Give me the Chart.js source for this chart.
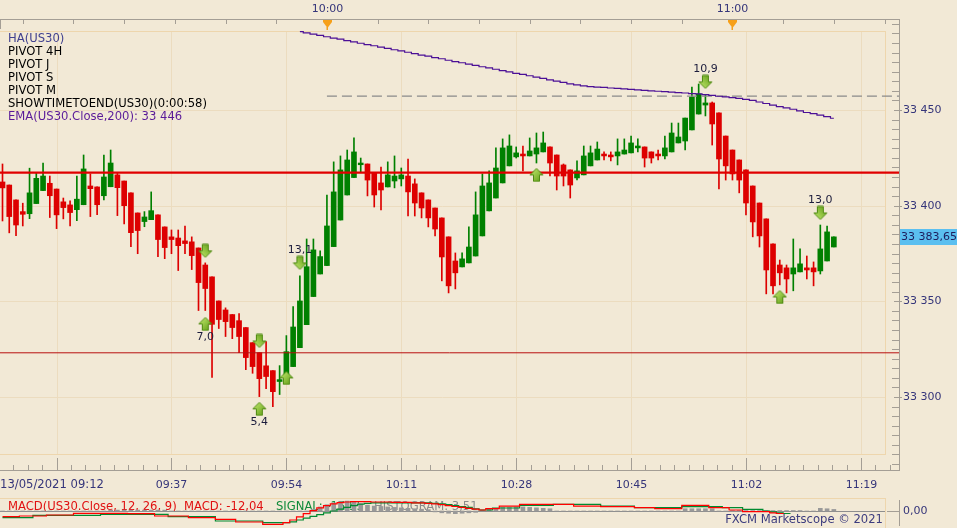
<!DOCTYPE html>
<html>
<head>
<meta charset="utf-8">
<script src="https://cdn.jsdelivr.net/npm/chart.js@4.4.1/dist/chart.umd.min.js"></script>
<style>
  html, body { margin: 0; padding: 0; background: #f2e9d6; overflow: hidden; }
  #wrap { position: relative; width: 957px; height: 528px; }
  #main { position: absolute; left: 0; top: 0; }
  #macd { position: absolute; left: 0; top: 497px; }
</style>
</head>
<body>
<div id="wrap">
  <canvas id="main" width="957" height="497"></canvas>
  <canvas id="macd" width="957" height="31"></canvas>
</div>
<script>
// 1 minute Heikin-Ashi bars, first bar 13/05/2021 09:12
const openPrices = [
  33412.4, 33410.8, 33403.0, 33396.9, 33395.8, 33401.1, 33407.9, 33411.7, 33408.7, 33402.0,
  33400.4, 33397.9, 33400.5, 33410.3, 33409.8, 33405.2, 33409.9, 33416.1, 33412.9, 33406.7,
  33396.2, 33391.7, 33392.7, 33395.2, 33388.9, 33383.7, 33383.1, 33381.6, 33381.1, 33377.9,
  33369.0, 33362.8, 33350.2, 33345.5, 33343.1, 33339.9, 33336.3, 33328.4, 33323.2, 33316.3,
  33313.8, 33308.1, 33311.2, 33315.9, 33325.8, 33337.8, 33352.5, 33364.3, 33368.7, 33378.6,
  33392.5, 33405.6, 33414.7, 33421.4, 33421.8, 33417.1, 33411.9, 33409.8, 33412.9, 33414.0,
  33415.5, 33411.4, 33406.7, 33403.0, 33398.8, 33393.6, 33383.7, 33371.1, 33368.0, 33370.1,
  33373.7, 33384.2, 33397.3, 33404.0, 33411.9, 33420.8, 33425.5, 33427.0, 33426.0, 33427.0,
  33428.1, 33430.7, 33426.5, 33421.3, 33418.7, 33414.5, 33416.1, 33420.8, 33423.9, 33427.0,
  33426.5, 33426.0, 33427.0, 33427.6, 33430.2, 33430.7, 33428.1, 33427.0, 33426.0, 33428.1,
  33432.8, 33433.8, 33439.6, 33447.9, 33452.6, 33453.7, 33448.5, 33436.4, 33429.1, 33423.9,
  33418.7, 33410.3, 33401.4, 33393.1, 33380.0, 33369.0, 33367.5, 33364.3, 33365.4, 33367.5,
  33367.5, 33365.9, 33371.1, 33378.4
];
const highPrices = [
  33421.8, 33410.8, 33403.0, 33401.3, 33419.6, 33416.9, 33422.2, 33415.5, 33408.7, 33404.0,
  33402.5, 33415.5, 33426.5, 33416.6, 33409.8, 33426.5, 33429.1, 33417.3, 33412.9, 33406.7,
  33396.2, 33396.9, 33407.2, 33395.2, 33388.9, 33387.3, 33387.3, 33389.4, 33383.7, 33377.9,
  33370.1, 33362.8, 33350.2, 33346.6, 33343.1, 33343.6, 33336.3, 33328.4, 33323.2, 33329.0,
  33313.8, 33316.4, 33332.1, 33347.2, 33363.3, 33382.6, 33382.6, 33376.4, 33405.6, 33422.9,
  33426.0, 33429.1, 33435.4, 33424.9, 33421.8, 33417.1, 33420.2, 33422.9, 33426.0, 33419.7,
  33424.4, 33414.0, 33406.7, 33403.0, 33398.8, 33393.6, 33383.7, 33375.3, 33375.3, 33388.9,
  33407.2, 33416.6, 33418.2, 33430.2, 33434.9, 33437.0, 33430.7, 33431.2, 33435.4, 33438.0,
  33438.5, 33430.7, 33426.5, 33421.8, 33418.7, 33423.4, 33431.2, 33431.2, 33433.3, 33428.1,
  33428.1, 33434.9, 33434.9, 33436.4, 33434.9, 33430.7, 33428.1, 33429.1, 33436.4, 33443.2,
  33443.2, 33445.8, 33462.0, 33463.6, 33457.9, 33454.2, 33448.5, 33436.4, 33429.1, 33423.9,
  33418.7, 33410.3, 33401.4, 33393.1, 33380.0, 33371.6, 33369.0, 33382.6, 33377.4, 33373.7,
  33370.6, 33389.9, 33389.4, 33383.7
];
const lowPrices = [
  33392.0, 33385.8, 33384.3, 33389.4, 33393.2, 33401.1, 33407.9, 33393.8, 33388.0, 33393.1,
  33389.4, 33392.2, 33400.5, 33394.3, 33395.3, 33403.0, 33409.9, 33394.8, 33390.5, 33378.6,
  33374.9, 33389.0, 33392.7, 33373.4, 33372.3, 33374.9, 33366.1, 33374.9, 33366.6, 33345.2,
  33345.2, 33310.2, 33335.8, 33331.6, 33330.5, 33323.2, 33314.3, 33312.4, 33300.2, 33304.4,
  33295.0, 33301.3, 33311.2, 33315.9, 33325.8, 33337.8, 33352.5, 33364.3, 33368.7, 33378.6,
  33392.5, 33405.6, 33414.7, 33417.3, 33405.1, 33399.3, 33397.8, 33409.8, 33409.3, 33410.3,
  33394.6, 33394.6, 33393.6, 33388.9, 33384.2, 33360.7, 33354.4, 33356.5, 33368.0, 33370.1,
  33373.7, 33384.2, 33397.3, 33404.0, 33411.9, 33420.8, 33424.9, 33418.2, 33426.0, 33422.3,
  33428.1, 33415.5, 33408.2, 33410.3, 33404.0, 33413.4, 33416.1, 33420.8, 33423.9, 33423.9,
  33423.4, 33421.3, 33427.0, 33427.6, 33428.1, 33420.2, 33422.3, 33423.9, 33424.4, 33428.1,
  33432.8, 33429.1, 33439.6, 33447.9, 33446.9, 33431.7, 33408.7, 33413.4, 33413.4, 33406.7,
  33395.2, 33383.7, 33378.4, 33353.9, 33353.9, 33358.6, 33354.4, 33355.5, 33365.4, 33361.7,
  33358.1, 33364.3, 33371.1, 33378.4
];
const closePrices = [
  33409.3, 33394.3, 33389.9, 33395.5, 33406.7, 33414.3, 33415.5, 33405.2, 33395.2, 33399.0,
  33396.4, 33403.4, 33419.2, 33408.9, 33400.5, 33415.0, 33422.3, 33409.4, 33400.0, 33385.9,
  33387.0, 33394.1, 33397.4, 33382.3, 33378.1, 33382.3, 33379.1, 33380.2, 33373.9, 33359.8,
  33356.7, 33338.0, 33340.5, 33339.4, 33336.3, 33331.6, 33320.6, 33315.9, 33309.6, 33310.7,
  33302.8, 33309.1, 33323.7, 33336.6, 33350.2, 33368.1, 33376.9, 33373.4, 33389.4, 33407.2,
  33418.7, 33423.9, 33428.1, 33422.3, 33413.4, 33405.6, 33408.2, 33416.1, 33415.5, 33416.1,
  33407.2, 33401.4, 33398.8, 33393.6, 33387.8, 33373.2, 33358.1, 33364.9, 33372.2, 33378.4,
  33395.2, 33410.3, 33411.9, 33419.7, 33430.2, 33431.2, 33427.6, 33426.0, 33428.6, 33430.2,
  33432.8, 33422.3, 33415.5, 33415.5, 33410.8, 33418.2, 33426.0, 33427.6, 33429.6, 33426.0,
  33425.5, 33428.1, 33429.1, 33432.8, 33431.2, 33424.9, 33424.9, 33426.0, 33430.2, 33438.0,
  33435.9, 33445.8, 33456.8, 33458.4, 33453.7, 33442.7, 33424.4, 33420.8, 33416.6, 33413.4,
  33401.4, 33391.5, 33384.2, 33366.4, 33358.1, 33364.9, 33361.7, 33367.5, 33369.6, 33366.4,
  33365.4, 33377.4, 33386.3, 33383.7
];
const lastPrice = 33383.65;

// EMA(200) from bar 44 onwards
const emaStart = 44;
const emaValues = [
  33491.0, 33490.3, 33489.7, 33489.0, 33488.3, 33487.6, 33487.0, 33486.3, 33485.6, 33484.9,
  33484.2, 33483.6, 33482.9, 33482.2, 33481.5, 33480.9, 33480.2, 33479.5, 33478.7, 33478.2,
  33477.4, 33476.8, 33476.0, 33475.3, 33474.7, 33474.0, 33473.3, 33472.6, 33472.0, 33471.3,
  33470.6, 33469.9, 33469.2, 33468.6, 33467.9, 33467.2, 33466.5, 33465.8, 33465.1, 33464.4,
  33463.7, 33463.1, 33462.6, 33462.2, 33462.0, 33461.8, 33461.5, 33461.3, 33461.0, 33460.8,
  33460.5, 33460.3, 33460.0, 33459.8, 33459.6, 33459.4, 33459.1, 33458.9, 33458.6, 33458.4,
  33458.0, 33457.6, 33457.2, 33456.9, 33456.5, 33456.1, 33455.6, 33455.0, 33454.2, 33453.4,
  33452.6, 33451.8, 33451.1, 33450.4, 33449.5, 33448.7, 33448.1, 33447.3, 33446.5, 33445.7
];

// pivot / level lines
const pivotLevel = 33417.3;
const supportLevel = 33323.1;
const dashLevel = 33457.3;
const dashStart = 48;

// signal arrows
const arrowIdx   = [30, 30, 38, 38, 42, 44, 79, 104, 115, 121];
const arrowPrice = [33376.4, 33338.2, 33329.3, 33293.8, 33310.0, 33370.1, 33416.1, 33464.7, 33352.3, 33396.2];
const arrowDir   = ['down', 'up', 'down', 'up', 'up', 'down', 'up', 'down', 'up', 'down'];
const arrowLabel = ['', '7,0', '', '5,4', '', '13,1', '', '10,9', '', '13,0'];

// MACD(12, 26, 9)
const macdValues = [
  -12.7, -12.7, -12.7, -11.1, -11.1, -11.1, -11.1, -8.9, -8.9, -8.9,
  -8.9, -5.1, -5.1, -5.1, -5.1, -5.1, -5.1, -5.1, -5.1, -6.0,
  -6.0, -6.0, -6.0, -11.1, -11.1, -11.1, -11.1, -11.1, -14.9, -14.9,
  -14.9, -14.9, -18.4, -18.4, -18.4, -24.4, -24.4, -24.4, -24.4, -29.6,
  -29.6, -29.6, -26, -20, -13, -6, 1, 7, 12, 16,
  18.4, 20, 21, 21, 21, 20, 20, 20, 19, 19,
  19, 18, 18, 17, 16, 14, 12, 10, 8, 6,
  4, 2.2, 5.2, 5.2, 11, 11, 11, 14.8, 14.8, 14.8,
  14.8, 14.8, 14.8, 14.8, 14.8, 11, 11, 11, 11, 9.6,
  9.6, 9.6, 9.6, 9.6, 7.4, 7.4, 7.4, 5.2, 5.2, 5.2,
  5.2, 12.6, 12.6, 12.6, 12.6, 7.4, 7.4, 7.4, 2.2, 2.2,
  -1.5, -1.5, -1.5, -1.5, -4, -6, -8, -9, -10, -11,
  -11.5, -12, -12, -12.04
];
const signalValues = [
  -14.9, -14.9, -14.9, -14.9, -14.9, -9.6, -9.6, -9.6, -9.6, -9.6,
  -9.6, -9.6, -9.6, -9.6, -9.6, -7.3, -7.3, -7.3, -7.3, -7.3,
  -7.3, -7.3, -7.3, -7.3, -7.3, -12.7, -12.7, -12.7, -12.7, -12.7,
  -12.7, -12.7, -22.2, -22.2, -22.2, -22.2, -22.2, -22.2, -22.2, -26,
  -26, -26, -26, -24, -20, -16, -12, -8, -4, 0,
  4, 8, 12, 15, 17, 18, 18, 18, 18, 18,
  18, 18, 18, 18, 17, 16, 14, 12, 10, 8,
  5, 2.2, 2.2, 6.7, 6.7, 6.7, 6.7, 12.6, 12.6, 12.6,
  12.6, 12.6, 14.8, 14.8, 14.8, 14.8, 14.8, 14.8, 14.8, 11,
  11, 11, 11, 11, 7.4, 7.4, 7.4, 7.4, 7.4, 7.4,
  7.4, 9.6, 9.6, 9.6, 9.6, 9.6, 9.6, 7.4, 7.4, 7.4,
  3.7, 3.7, 3.7, 0, -2, -4, -6, -8, -9.5, -11,
  -12.5, -13.5, -14.5, -15.55
];
const histValues = [
  0, 0, 0, 0, 0, 0, 0, 0, 0, 0,
  0, 0, 0, 0, 0, 0, 2, 2, 2, 2,
  2, 2, 2, 2, 2, 0, 0, 0, 0, 0,
  0, 0, 0, 0, 0, 0, 0, 0, 0, 0,
  0, 0, 0, 0, 0, 0, 4, 9, 14, 18,
  21, 22, 20, 17, 13, 11, 10, 9, 8, 7,
  6, 5, 4, 3, -2, -4, -5, -6, -5, -4,
  -3, 2, 4, 6, 8, 8, 9, 9, 8, 7,
  6, 5, 0, 0, 0, 0, 0, 0, 0, 0,
  0, 0, 0, 0, 0, 0, 0, 0, 0, 0,
  0, 5, 5, 5, 5, 5, 0, 0, 1, 1,
  1, 1, 1, 1, 1, 1, 1, 1, 1, 0,
  0, 6, 5, 3.51
];

// axes
const priceTicks = [33300, 33350, 33400, 33450];
const firstLabel = '13/05/2021 09:12';
const bottomTickIdx = [8, 25, 42, 59, 76, 93, 110, 127];
const bottomTickLabels = ['', '09:37', '09:54', '10:11', '10:28', '10:45', '11:02', '11:19'];
const topMarkIdx = [48, 108];
const topMarkLabels = ['10:00', '11:00'];
const legendLines = ['HA(US30)', 'PIVOT 4H', 'PIVOT J', 'PIVOT S', 'PIVOT M', 'SHOWTIMETOEND(US30)(0:00:58)'];

// ---- look ----
const BG = '#f2e9d6';
const GRID = '#ecdcbf';
const FRAME = '#eed6ad';
const AXIS = '#a49e95';
const AXIS_TEXT = '#35357a';
const RED = '#dd0000';
const GREEN = '#008000';
const FONT = '11px "DejaVu Sans"';
const TEXT_FONT = '11.6px "DejaVu Sans"';

const X_MIN = -0.37, X_MAX = 132.64;
const Y_MIN = 33261.85, Y_MAX = 33497.57;
const FRAME_TOP = 31, FRAME_BOTTOM = 454, FRAME_RIGHT = 885;
const AXIS_RIGHT = 899, AXIS_TOP = 19, AXIS_BOTTOM = 470;

const snap = v => Math.round(v) + 0.5;
function seg(ctx, x1, y1, x2, y2) {
  ctx.beginPath(); ctx.moveTo(x1, y1); ctx.lineTo(x2, y2); ctx.stroke();
}
function fmtPrice(v) {
  const t = Math.floor(v / 1000);
  return t + ' ' + String(Math.round(v - t * 1000)).padStart(3, '0');
}

function makeArrow(up) {
  const c = document.createElement('canvas');
  c.width = 15; c.height = 15;
  const g = c.getContext('2d');
  g.translate(7.5, 7.5);
  if (!up) g.scale(1, -1);
  g.beginPath();
  g.moveTo(0, -6.5); g.lineTo(6.5, 0); g.lineTo(3, 0); g.lineTo(3, 6.5);
  g.lineTo(-3, 6.5); g.lineTo(-3, 0); g.lineTo(-6.5, 0); g.closePath();
  const grad = g.createLinearGradient(-6, -6, 6, 6);
  grad.addColorStop(0, '#c4ea6e');
  grad.addColorStop(1, '#5f9c16');
  g.fillStyle = grad;
  g.fill();
  g.strokeStyle = '#4f8a12';
  g.lineWidth = 1;
  g.stroke();
  return c;
}
const upArrow = makeArrow(true);
const downArrow = makeArrow(false);

const idx = openPrices.map((_, i) => i);
const candleColors = idx.map(i => closePrices[i] >= openPrices[i] ? GREEN : RED);
const upPoints = [], downPoints = [];
arrowIdx.forEach((i, k) => (arrowDir[k] === 'up' ? upPoints : downPoints).push({ x: i, y: arrowPrice[k] }));

const mainDecor = {
  id: 'mainDecor',
  beforeDraw(chart) {
    const { ctx, scales: { x, y } } = chart;
    ctx.save();
    ctx.fillStyle = BG;
    ctx.fillRect(0, 0, chart.width, chart.height);
    ctx.lineWidth = 1;
    ctx.strokeStyle = GRID;
    bottomTickIdx.forEach(i => {
      const gx = snap(x.getPixelForValue(i));
      if (gx < FRAME_RIGHT) seg(ctx, gx, FRAME_TOP, gx, FRAME_BOTTOM);
    });
    priceTicks.forEach(p => {
      const gy = snap(y.getPixelForValue(p));
      seg(ctx, 0, gy, FRAME_RIGHT, gy);
    });
    ctx.strokeStyle = FRAME;
    ctx.strokeRect(-0.5, FRAME_TOP + 0.5, FRAME_RIGHT + 1, FRAME_BOTTOM - FRAME_TOP);
    ctx.restore();
  },
  afterDraw(chart) {
    const { ctx, scales: { x, y } } = chart;
    ctx.save();
    ctx.font = TEXT_FONT;
    ctx.textBaseline = 'middle';

    // indicator legend
    legendLines.forEach((t, k) => {
      ctx.fillStyle = k === 0 ? '#41418f' : '#000000';
      ctx.fillText(t, 8, 39 + k * 13);
    });
    ctx.fillStyle = '#5a1a98';
    ctx.fillText('EMA(US30.Close,200): ' + fmtPrice(Math.round(emaValues[emaValues.length - 1])), 8, 39 + 6 * 13);

    // arrow values
    ctx.font = FONT;
    ctx.fillStyle = '#1c1c3c';
    ctx.textAlign = 'center';
    arrowIdx.forEach((i, k) => {
      if (!arrowLabel[k]) return;
      const ax = x.getPixelForValue(i);
      const ay = y.getPixelForValue(arrowPrice[k]);
      ctx.fillText(arrowLabel[k], ax, arrowDir[k] === 'up' ? ay + 13 : ay - 13);
    });

    // axes frame
    ctx.strokeStyle = AXIS;
    ctx.lineWidth = 1;
    seg(ctx, 0, AXIS_TOP + 0.5, AXIS_RIGHT + 1, AXIS_TOP + 0.5);
    seg(ctx, 0.5, AXIS_TOP, 0.5, AXIS_TOP + 10);
    seg(ctx, AXIS_RIGHT + 0.5, AXIS_TOP, AXIS_RIGHT + 0.5, AXIS_BOTTOM + 1);
    seg(ctx, 0, AXIS_BOTTOM + 0.5, AXIS_RIGHT + 1, AXIS_BOTTOM + 0.5);

    // top time axis: ticks every 7.5 minutes
    for (let t = 3; t < X_MAX; t += 7.5) {
      const tx = snap(x.getPixelForValue(t));
      seg(ctx, tx, AXIS_TOP, tx, AXIS_TOP + 5);
    }
    topMarkIdx.forEach((i, k) => {
      const mx = Math.round(x.getPixelForValue(i)) + 0.5;
      ctx.fillStyle = '#f6a01a';
      ctx.beginPath();
      ctx.moveTo(mx - 4.5, AXIS_TOP + 1); ctx.lineTo(mx + 4.5, AXIS_TOP + 1);
      ctx.lineTo(mx + 4.5, AXIS_TOP + 3); ctx.lineTo(mx, AXIS_TOP + 9);
      ctx.lineTo(mx - 4.5, AXIS_TOP + 3); ctx.closePath(); ctx.fill();
      ctx.fillRect(mx - 1, AXIS_TOP + 8, 1.5, 3);
      ctx.fillStyle = AXIS_TEXT;
      ctx.fillText(topMarkLabels[k], mx, 9);
    });

    // bottom time axis
    const step = 17 / 8;
    for (let t = bottomTickIdx[0] - 3 * step; t < X_MAX; t += step) {
      const tx = snap(x.getPixelForValue(t));
      if (tx > AXIS_RIGHT) break;
      seg(ctx, tx, AXIS_BOTTOM - 5, tx, AXIS_BOTTOM);
    }
    ctx.fillStyle = AXIS_TEXT;
    bottomTickIdx.forEach((i, k) => {
      const tx = snap(x.getPixelForValue(i));
      seg(ctx, tx, AXIS_BOTTOM - 12, tx, AXIS_BOTTOM);
      if (bottomTickLabels[k]) ctx.fillText(bottomTickLabels[k], tx, 485);
    });
    ctx.textAlign = 'left';
    ctx.font = TEXT_FONT;
    ctx.fillText(firstLabel, 0, 485);
    ctx.font = FONT;

    // price axis
    for (let p = Math.ceil(Y_MIN / 5) * 5; p < Y_MAX; p += 5) {
      const py = snap(y.getPixelForValue(p));
      if (p % 50 === 0) {
        seg(ctx, AXIS_RIGHT - 5, py, AXIS_RIGHT + 3, py);
      } else {
        seg(ctx, AXIS_RIGHT - 7, py, AXIS_RIGHT, py);
      }
    }
    priceTicks.forEach(p => ctx.fillText(fmtPrice(p), 903, y.getPixelForValue(p)));

    // last price tag
    const ly = Math.round(y.getPixelForValue(lastPrice));
    ctx.fillStyle = '#5bbff0';
    ctx.fillRect(AXIS_RIGHT + 1, ly - 8, 60, 16);
    ctx.fillStyle = '#1d1d5c';
    ctx.fillText(fmtPrice(Math.trunc(lastPrice)) + ',' + lastPrice.toFixed(2).split('.')[1], 901, ly);
    ctx.restore();
  }
};

new Chart(document.getElementById('main'), {
  type: 'bar',
  data: {
    datasets: [
      { type: 'line', data: [{ x: X_MIN, y: pivotLevel }, { x: X_MAX, y: pivotLevel }],
        borderColor: '#e00000', borderWidth: 2.4, pointRadius: 0, order: 2 },
      { type: 'line', data: [{ x: X_MIN, y: supportLevel }, { x: X_MAX, y: supportLevel }],
        borderColor: '#b81010', borderWidth: 1, pointRadius: 0, order: 2 },
      { type: 'line', data: [{ x: dashStart, y: dashLevel }, { x: X_MAX, y: dashLevel }],
        borderColor: '#8a8a8a', borderWidth: 1.2, borderDash: [10, 5], pointRadius: 0, order: 2 },
      { type: 'line', data: emaValues.map((v, k) => ({ x: emaStart + k, y: v })),
        borderColor: '#4b0f96', borderWidth: 1.2, pointRadius: 0, stepped: 'middle', order: 1 },
      { type: 'bar', data: idx.map(i => ({ x: i, y: [lowPrices[i], highPrices[i]] })),
        backgroundColor: candleColors, barThickness: 1, grouped: false, order: 4 },
      { type: 'bar', data: idx.map(i => ({ x: i, y: [openPrices[i], closePrices[i]] })),
        backgroundColor: candleColors, barThickness: 5, grouped: false, order: 3 },
      { type: 'scatter', data: upPoints, pointStyle: upArrow, pointRadius: 7, order: 0 },
      { type: 'scatter', data: downPoints, pointStyle: downArrow, pointRadius: 7, order: 0 }
    ]
  },
  plugins: [mainDecor],
  options: {
    responsive: false,
    animation: false,
    devicePixelRatio: 1,
    events: [],
    layout: { autoPadding: false, padding: { left: 0, right: 957 - AXIS_RIGHT, top: AXIS_TOP, bottom: 497 - AXIS_BOTTOM } },
    plugins: { legend: { display: false }, tooltip: { enabled: false } },
    scales: {
      x: { type: 'linear', min: X_MIN, max: X_MAX, offset: false, bounds: 'data', display: false },
      y: { type: 'linear', min: Y_MIN, max: Y_MAX, bounds: 'data', display: false }
    }
  }
});

// ---- MACD panel ----
const macdDecor = {
  id: 'macdDecor',
  beforeDraw(chart) {
    const { ctx, scales: { y } } = chart;
    ctx.save();
    ctx.fillStyle = BG;
    ctx.fillRect(0, 0, chart.width, chart.height);
    ctx.strokeStyle = FRAME;
    ctx.lineWidth = 1;
    ctx.strokeRect(-0.5, 1.5, FRAME_RIGHT + 1, 40);
    ctx.font = TEXT_FONT;
    ctx.textBaseline = 'middle';
    ctx.fillStyle = '#e01010';
    ctx.fillText('MACD(US30.Close, 12, 26, 9)  MACD: ' + macdValues[macdValues.length - 1].toFixed(2).replace('.', ','), 8, 10);
    ctx.fillStyle = '#108a3a';
    ctx.fillText('SIGNAL: ' + signalValues[signalValues.length - 1].toFixed(2).replace('.', ','), 276, 10);
    ctx.fillStyle = '#8c8c8c';
    ctx.fillText('HISTOGRAM: ' + histValues[histValues.length - 1].toFixed(2).replace('.', ','), 374, 10);
    ctx.strokeStyle = '#8e8e8e';
    const zy = snap(y.getPixelForValue(0));
    seg(ctx, 0, zy, FRAME_RIGHT, zy);
    ctx.restore();
  },
  afterDraw(chart) {
    const { ctx, scales: { y } } = chart;
    ctx.save();
    ctx.fillStyle = BG;
    ctx.fillRect(726, 17, FRAME_RIGHT - 726, 14);
    ctx.font = TEXT_FONT;
    ctx.textBaseline = 'middle';
    ctx.textAlign = 'right';
    ctx.fillStyle = '#3c3c7e';
    ctx.fillText('FXCM Marketscope \u00a9 2021', 883, 23);
    ctx.strokeStyle = AXIS;
    ctx.lineWidth = 1;
    seg(ctx, AXIS_RIGHT + 0.5, 3, AXIS_RIGHT + 0.5, 29);
    const zy = snap(y.getPixelForValue(0));
    seg(ctx, FRAME_RIGHT + 2, zy, AXIS_RIGHT + 1, zy);
    ctx.textAlign = 'left';
    ctx.font = FONT;
    ctx.fillStyle = AXIS_TEXT;
    ctx.fillText('0,00', 903, zy);
    ctx.restore();
  }
};

new Chart(document.getElementById('macd'), {
  type: 'bar',
  data: {
    datasets: [
      { type: 'bar', data: idx.map(i => ({ x: i, y: histValues[i] })),
        backgroundColor: '#999999', barThickness: 4, order: 3 },
      { type: 'line', data: idx.map(i => ({ x: i, y: signalValues[i] })),
        borderColor: '#008a30', borderWidth: 1.2, pointRadius: 0, stepped: 'middle', order: 2 },
      { type: 'line', data: idx.map(i => ({ x: i, y: macdValues[i] })),
        borderColor: '#ff0000', borderWidth: 1.2, pointRadius: 0, stepped: 'middle', order: 1 }
    ]
  },
  plugins: [macdDecor],
  options: {
    responsive: false,
    animation: false,
    devicePixelRatio: 1,
    events: [],
    layout: { autoPadding: false, padding: { left: 0, right: 957 - AXIS_RIGHT, top: 0, bottom: 0 } },
    plugins: { legend: { display: false }, tooltip: { enabled: false } },
    scales: {
      x: { type: 'linear', min: X_MIN, max: X_MAX, offset: false, bounds: 'data', display: false },
      y: { type: 'linear', min: -37.78, max: 31.11, bounds: 'data', display: false }
    }
  }
});
</script>
</body>
</html>
